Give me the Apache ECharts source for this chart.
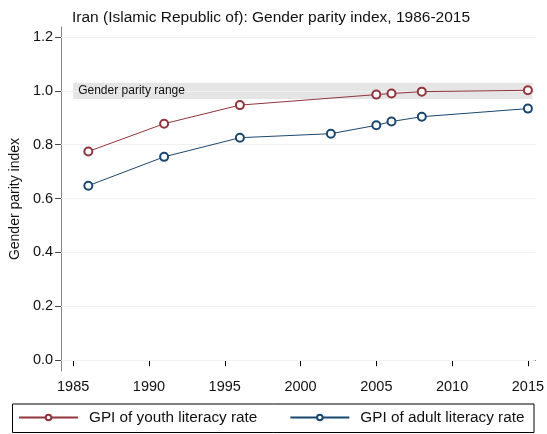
<!DOCTYPE html>
<html>
<head>
<meta charset="utf-8">
<script src="https://cdn.jsdelivr.net/npm/echarts@6/dist/echarts.min.js"></script>
<style>
  html, body { margin: 0; padding: 0; background: #fff; }
  #chart { width: 547px; height: 434px; }
</style>
</head>
<body>
<div id="chart"></div>
<script>
// data
var youthYears = [1986, 1991, 1996, 2005, 2006, 2008, 2015];
var youthGPI   = [0.775, 0.878, 0.947, 0.986, 0.990, 0.997, 1.002];
var adultYears = [1986, 1991, 1996, 2002, 2005, 2006, 2008, 2015];
var adultGPI   = [0.648, 0.755, 0.826, 0.841, 0.872, 0.886, 0.904, 0.934];
var xTicks = [1985, 1990, 1995, 2000, 2005, 2010, 2015];
var yTicks = [0, 0.2, 0.4, 0.6, 0.8, 1.0, 1.2];
var parityRange = [0.97, 1.03];

var red = '#90353b';
var blue = '#1a476f';
var font = 'Liberation Sans, Arial, sans-serif';

function pairs(xs, ys) {
  return xs.map(function (x, i) { return [x, ys[i]]; });
}

var dom = document.getElementById('chart');
var myChart = echarts.init(dom);
var option = {
  animation: false,
  textStyle: { fontFamily: font },
  title: {
    text: 'Iran (Islamic Republic of): Gender parity index, 1986-2015',
    left: 67,
    top: 5,
    textStyle: { fontSize: 15.5, fontWeight: 'normal', color: '#111' }
  },
  legend: {
    left: 13,
    top: 405,
    itemWidth: 59,
    itemHeight: 7,
    itemGap: 32,
    textStyle: { fontSize: 15.3, color: '#111', padding: [0, 0, 0, 6] },
    data: ['GPI of youth literacy rate', 'GPI of adult literacy rate']
  },
  graphic: [{
    type: 'rect',
    shape: { x: 12.5, y: 404, width: 521.5, height: 28.5 },
    style: { fill: 'none', stroke: '#000', lineWidth: 1 },
    silent: true
  }],
  grid: { left: 60, right: 2, top: 27, bottom: 63 },
  xAxis: {
    type: 'value',
    min: 1984.2,
    max: 2015.5,
    axisLine: { lineStyle: { color: '#000' } },
    axisTick: { length: 6, lineStyle: { color: '#000' }, customValues: xTicks },
    axisLabel: {
      fontSize: 14.5, color: '#111', margin: 8, customValues: xTicks,
      formatter: function (v) { return String(v); }
    },
    splitLine: { show: false }
  },
  yAxis: {
    type: 'value',
    name: 'Gender parity index',
    nameLocation: 'middle',
    nameGap: 33,
    nameTextStyle: { fontSize: 14, color: '#111' },
    min: -0.04,
    max: 1.237,
    axisLine: { show: true, lineStyle: { color: '#888' } },
    axisTick: { show: true, length: 6, lineStyle: { color: '#444' }, customValues: yTicks },
    axisLabel: {
      fontSize: 14.5, color: '#111', margin: 8, customValues: yTicks,
      formatter: function (v) { return v.toFixed(1); }
    },
    splitLine: { show: false }
  },
  series: [
    {
      name: 'GPI of youth literacy rate',
      type: 'line',
      data: pairs(youthYears, youthGPI),
      symbol: 'emptyCircle',
      symbolSize: 8,
      lineStyle: { color: red, width: 1 },
      itemStyle: { color: red, borderWidth: 1 },
      z: 5,
      markLine: {
        silent: true,
        symbol: 'none',
        label: { show: false },
        lineStyle: { color: '#efefef', type: 'solid', width: 1 },
        data: yTicks.map(function (v) { return { yAxis: v }; }),
        z: 1
      },
      markArea: {
        silent: true,
        itemStyle: { color: '#e5e5e5' },
        label: {
          show: true,
          position: 'insideLeft',
          fontSize: 12,
          color: '#111'
        },
        data: [[
          { name: 'Gender parity range', coord: [1985, parityRange[0]] },
          { coord: [2015.3, parityRange[1]] }
        ]]
      }
    },
    {
      name: 'GPI of adult literacy rate',
      type: 'line',
      data: pairs(adultYears, adultGPI),
      symbol: 'emptyCircle',
      symbolSize: 8,
      lineStyle: { color: blue, width: 1 },
      itemStyle: { color: blue, borderWidth: 1 },
      z: 5
    }
  ]
};
myChart.setOption(option, true);
</script>
</body>
</html>
